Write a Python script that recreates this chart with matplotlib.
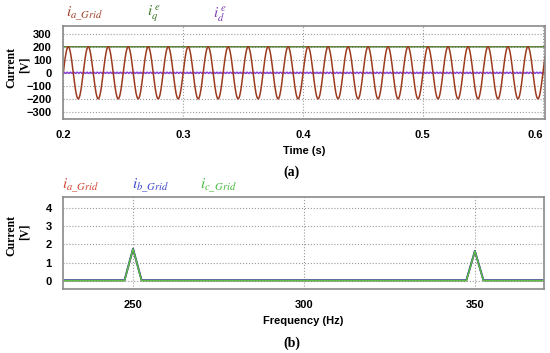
import numpy as np
import matplotlib
matplotlib.use('Agg')
import matplotlib.pyplot as plt

plt.rcParams['mathtext.fontset'] = 'stix'

# (a) grid currents
t_start, t_end = 0.2, 0.602
ia_amp = 200.0        # peak of i_a_Grid
f_grid = 60.0         # Hz, cycles counted on the plot
ia_peak_t = 0.2044    # time of first peak
iq_level = 200.0
id_level = 0.0
id_ripple = 5.0

# (b) harmonic spectrum
freqs = [230, 247.5, 250, 252.5, 347.5, 350, 352.5, 370]
mag_a = [0.02, 0.02, 1.74, 0.02, 0.02, 1.62, 0.02, 0.02]
mag_b = [0.03, 0.03, 1.76, 0.03, 0.03, 1.64, 0.03, 0.03]
mag_c = [0.01, 0.01, 1.75, 0.01, 0.01, 1.63, 0.01, 0.01]

t = np.linspace(t_start, t_end, 4000)
ia = ia_amp * np.cos(2 * np.pi * f_grid * (t - ia_peak_t))
iq = np.full_like(t, iq_level)
idd = id_level + id_ripple * np.sin(2 * np.pi * 360 * t)

fig = plt.figure(figsize=(5.5, 3.53), dpi=100)
bold = dict(fontweight='bold', fontsize=8, family='Liberation Sans')
serif = dict(family='Liberation Serif', fontweight='bold', fontsize=8.5)

def style(ax):
    for s in ax.spines.values():
        s.set_color('#8a8a8a')
        s.set_linewidth(1.2)
    ax.grid(True, linestyle=':', color='#9a9a9a', linewidth=0.8)
    ax.tick_params(length=0, pad=8)
    for lab in ax.get_xticklabels() + ax.get_yticklabels():
        lab.set_fontweight('bold')
        lab.set_fontsize(8)
        lab.set_family('Liberation Sans')

def ylab(yc):
    fig.text(11 / 550, yc, 'Current', rotation=90, ha='center', va='center', **serif)
    fig.text(25 / 550, yc + 0.01, '[V]', rotation=90, ha='center', va='center', **serif)

# ---- (a)
ax1 = fig.add_axes([0.1145, 0.663, 0.8765, 0.2634])
ax1.plot(t, iq, color='#4f7a2c', lw=1.0)
ax1.plot(t, idd, color='#8a3fd6', lw=1.0)
ax1.plot(t, ia, color='#9c3b1f', lw=1.1)
ax1.set_xlim(t_start, t_end)
ax1.set_ylim(-355, 360)
ax1.set_xticks([0.2, 0.3, 0.4, 0.5, 0.6])
ax1.set_xticklabels(['0.2', '0.3', '0.4', '0.5', '0.6'])
ax1.set_yticks([-300, -200, -100, 0, 100, 200, 300])
style(ax1)
ax1.get_xticklabels()[-1].set_ha('right')
ax1.set_xlabel('Time (s)', **bold, labelpad=4)

ylab(1 - 68 / 353)
fig.text(85 / 550, 1 - 14 / 353, r'$i_{a\_Grid}$', color='#a0402a', fontsize=11, ha='center', va='center')
fig.text(154 / 550, 1 - 14 / 353, r'$i_q^{\,e}$', color='#3f7a2a', fontsize=11, ha='center', va='center')
fig.text(220 / 550, 1 - 14 / 353, r'$i_d^{\,e}$', color='#7f3fb5', fontsize=11, ha='center', va='center')
fig.text(292 / 550, 1 - 172 / 353, '(a)', family='Liberation Serif', fontweight='bold', fontsize=10,
         ha='center', va='center')

# ---- (b)
ax2 = fig.add_axes([0.1145, 0.1813, 0.8745, 0.2606])
ax2.plot(freqs, mag_a, color='#c8582a', lw=1.2)
ax2.plot(freqs, mag_b, color='#2f45a8', lw=1.4)
ax2.plot(freqs, mag_c, color='#5cc040', lw=1.0)
ax2.set_xlim(229.5, 370.2)
ax2.set_ylim(-0.45, 4.6)
ax2.set_xticks([250, 300, 350])
ax2.set_yticks([0, 1, 2, 3, 4])
style(ax2)
ax2.set_xlabel('Frequency (Hz)', **bold, labelpad=4)

ylab(1 - 235 / 353)
fig.text(81 / 550, 1 - 186 / 353, r'$i_{a\_Grid}$', color='#d0452e', fontsize=11, ha='center', va='center')
fig.text(151 / 550, 1 - 186 / 353, r'$i_{b\_Grid}$', color='#3a45c8', fontsize=11, ha='center', va='center')
fig.text(218 / 550, 1 - 186 / 353, r'$i_{c\_Grid}$', color='#44b83a', fontsize=11, ha='center', va='center')
fig.text(292 / 550, 1 - 343 / 353, '(b)', family='Liberation Serif', fontweight='bold', fontsize=10,
         ha='center', va='center')

fig.savefig('out.png', dpi=100)
